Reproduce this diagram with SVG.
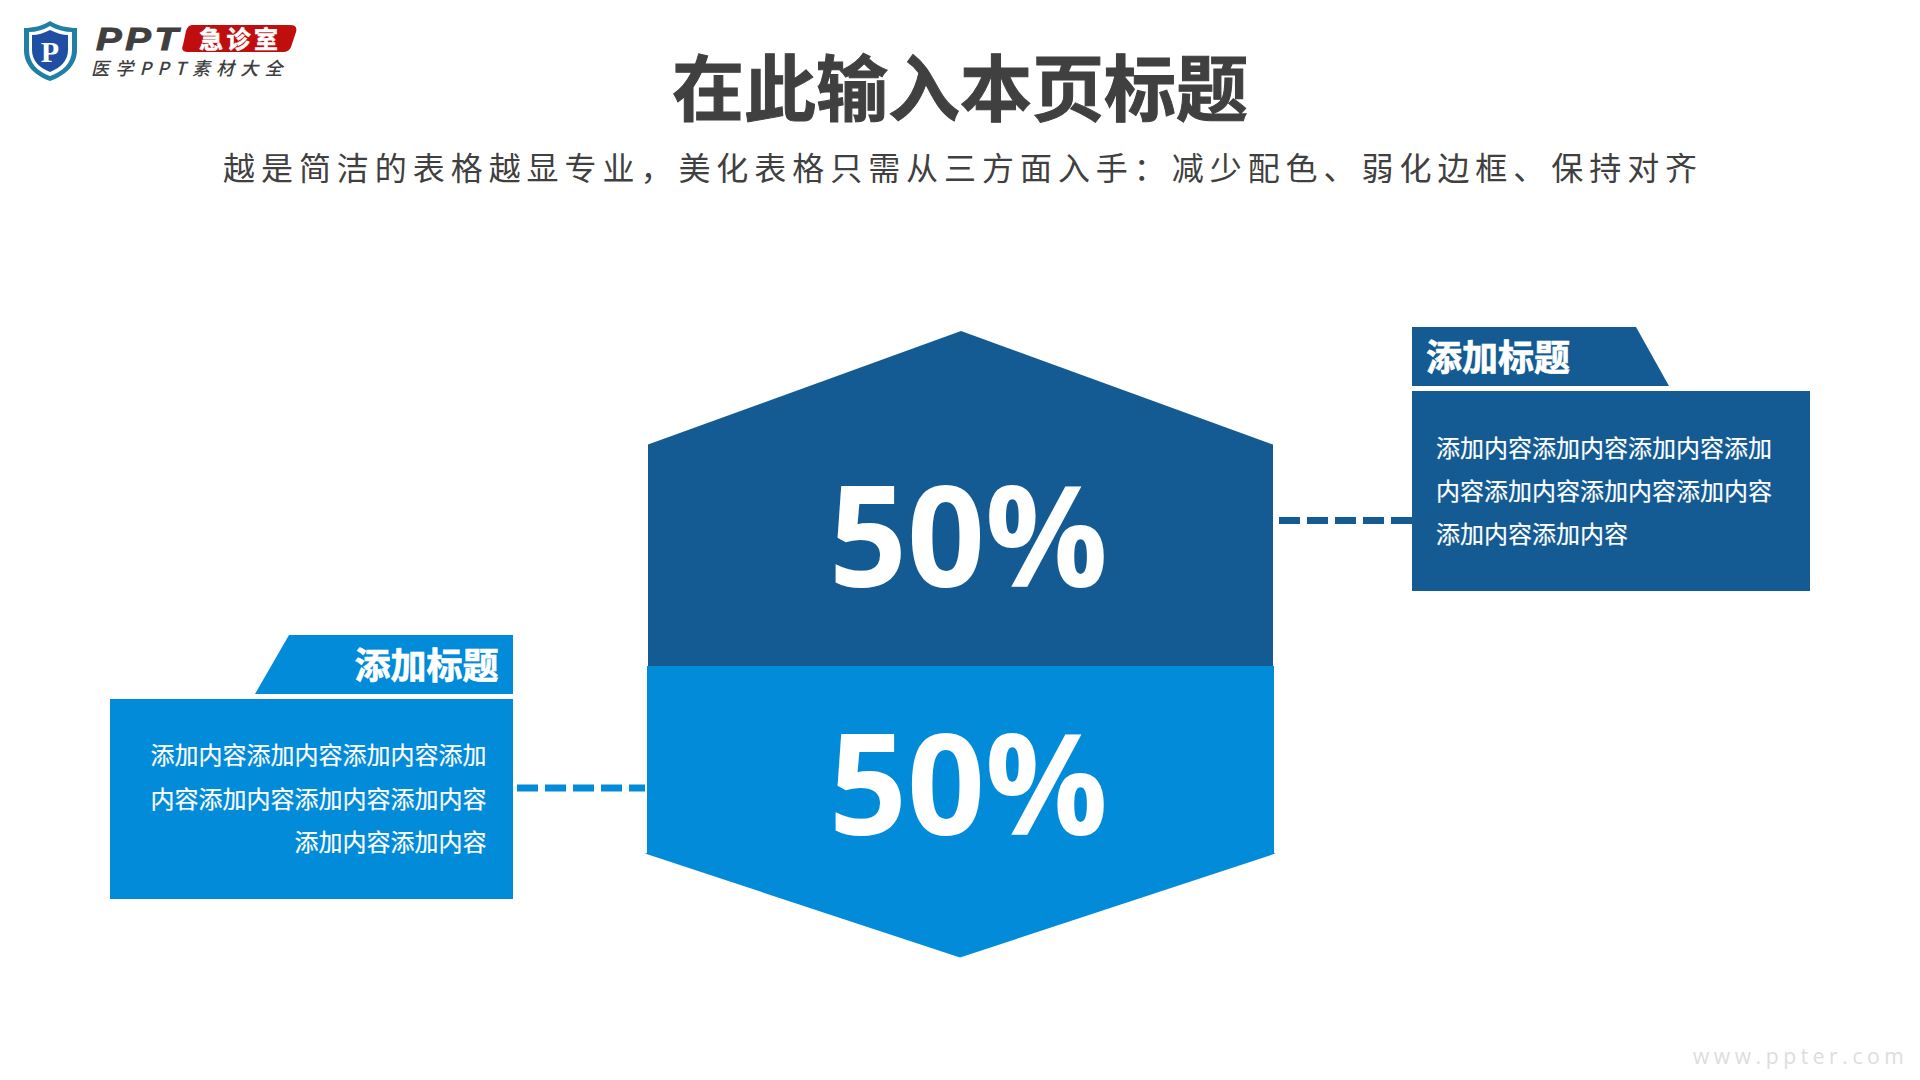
<svg xmlns="http://www.w3.org/2000/svg" width="1920" height="1080" viewBox="0 0 1920 1080">
<style>
.cjk{font-family:"Noto Sans CJK SC","Noto Sans",sans-serif}
.pct{font-family:"Open Sans","Noto Sans",sans-serif;font-weight:700;font-size:140px;fill:#fff}
.tt{font-size:36px;font-weight:700;fill:#fff;stroke:#fff;stroke-width:.7px}
.bd{font-size:24px;fill:#fff;font-weight:400;stroke:#fff;stroke-width:.2px}
.dk{fill:#145B94}.lt{fill:#028BD9}
.dash{fill:none;stroke-width:7;stroke-dasharray:21 7}
</style>
<rect width="1920" height="1080" fill="#fff"/>
<g id="logo">
<path d="M50 21C58 26 68 28 77 28V50C77 66 64 76 50 81C36 76 24 66 24 50V28C33 28 42 26 50 21Z" fill="#1f7fa5"/>
<path d="M50 26C57 30 65 32 72 32V50C72 63 62 72 50 76C38 72 29 63 29 50V32C36 32 43 30 50 26Z" fill="#fff"/>
<path d="M50 30C56 33 63 35 68 35V50C68 61 60 68 50 72C40 68 32 61 32 50V35C38 35 44 33 50 30Z" fill="#1e4fa3"/>
<text x="50" y="62" text-anchor="middle" font-family="Liberation Serif,serif" font-weight="700" font-size="30" fill="#fff">P</text>
<text transform="translate(96,50) scale(1.2,1)" font-family="Liberation Sans,sans-serif" font-weight="700" font-style="italic" font-size="32" letter-spacing="3" stroke="#3f3f3f" stroke-width="1" fill="#3f3f3f">PPT</text>
<path d="M192 25H290Q298 25 296 32L291 47Q289 52 283 52H188Q180 52 183 45L186 31Q188 25 192 25Z" fill="#c00d0d"/>
<text x="199" y="48" class="cjk" font-weight="700" font-size="24" letter-spacing="3.5" stroke="#fff" stroke-width=".6" fill="#fff">急诊室</text>
<text x="91" y="75" class="cjk" font-style="italic" font-weight="500" font-size="18" letter-spacing="6.2" fill="#3f3f3f">医学PPT素材大全</text>
</g>
<g id="heading">
<text x="960" y="115" text-anchor="middle" class="cjk" font-weight="700" font-size="72" stroke="#404040" stroke-width="1" fill="#404040">在此输入本页标题</text>
<text x="223" y="180" class="cjk" font-size="32" letter-spacing="5.95" fill="#404040">越是简洁的表格越显专业，美化表格只需从三方面入手：减少配色、弱化边框、保持对齐</text>
</g>
<g id="connectors">
<path class="dash" stroke="#145B94" d="M1279 520.5H1412"/>
<path class="dash" stroke="#028BD9" d="M517 788H645"/>
</g>
<g id="hex-top">
<path class="dk" d="M961 331L1273 444.6V666H648V444.6Z"/>
<text x="829" y="587" class="pct" textLength="279" lengthAdjust="spacingAndGlyphs">50%</text>
</g>
<g id="hex-bottom">
<path class="lt" d="M647 666H1274V853L1275.5 853.5L960 957.6L645 853.5L647 853Z"/>
<text x="829" y="835" class="pct" textLength="279" lengthAdjust="spacingAndGlyphs">50%</text>
</g>
<g id="card-right">
<path class="dk" d="M1412 327H1636L1669 386H1412Z"/>
<rect class="dk" x="1412" y="391" width="398" height="200"/>
<text x="1426" y="371" class="cjk tt">添加标题</text>
<text class="cjk bd"><tspan x="1436" y="456.5">添加内容添加内容添加内容添加</tspan><tspan x="1436" y="500">内容添加内容添加内容添加内容</tspan><tspan x="1436" y="543">添加内容添加内容</tspan></text>
</g>
<g id="card-left">
<path class="lt" d="M289 635H513V694H255Z"/>
<rect class="lt" x="110" y="699" width="403" height="200"/>
<text x="498.5" y="679" text-anchor="end" class="cjk tt">添加标题</text>
<text class="cjk bd" text-anchor="end"><tspan x="486.5" y="764">添加内容添加内容添加内容添加</tspan><tspan x="486.5" y="808">内容添加内容添加内容添加内容</tspan><tspan x="486.5" y="851">添加内容添加内容</tspan></text>
</g>
<text id="watermark" x="1693" y="1063.5" font-family="Open Sans,sans-serif" font-size="21" letter-spacing="4.6" fill="#ddd">www.ppter.com</text>
</svg>
